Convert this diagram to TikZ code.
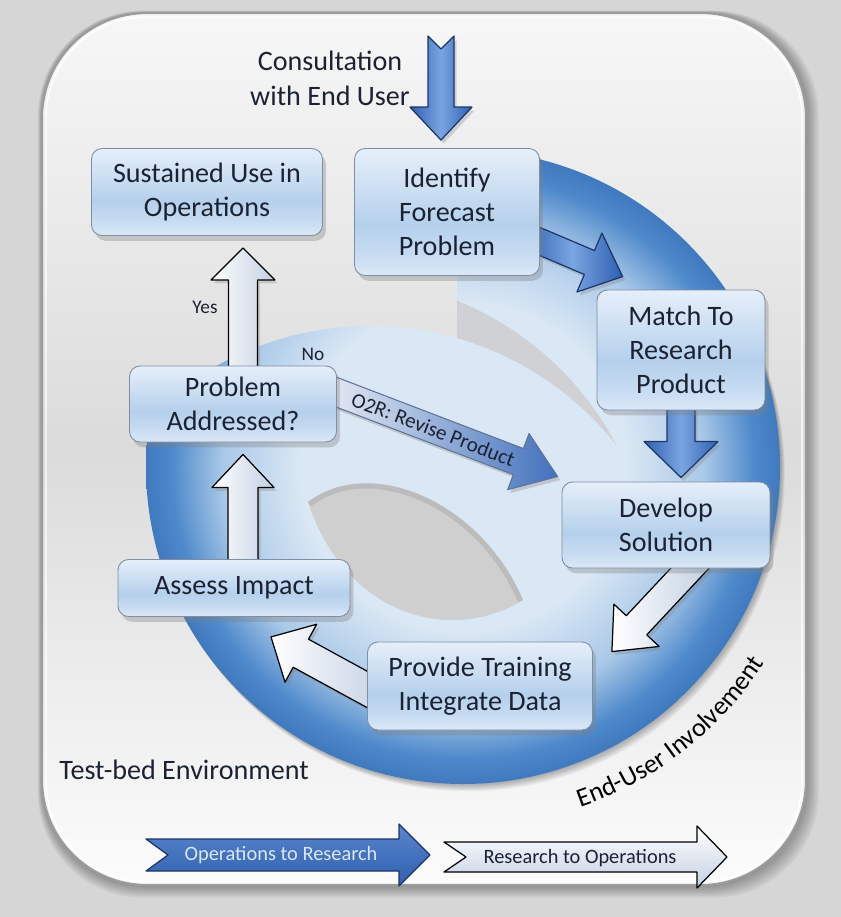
\documentclass[tikz,border=0pt]{standalone}
\usepackage{fontspec}
\setmainfont{Carlito}
\usepackage{xcolor}
\usetikzlibrary{calc,shadows,decorations.text}

\definecolor{BgGray}{HTML}{D6D6D6}
\definecolor{PanelTop}{HTML}{F7F7F7}
\definecolor{PanelMid}{HTML}{DBDBDB}
\definecolor{PanelBot}{HTML}{FCFCFC}
\definecolor{PanelEdge}{HTML}{9C9C9C}
\definecolor{RingLight}{HTML}{DAE7F4}
\definecolor{RingMid}{HTML}{A9C8E8}
\definecolor{RingDark}{HTML}{4E89CB}
\definecolor{RingRim}{HTML}{3F7ABF}
\definecolor{CrescentGray}{HTML}{CFD1D4}
\definecolor{LensGray}{HTML}{CFCFCF}
\definecolor{LensEdge}{HTML}{B0B0B0}
\definecolor{BoxTop}{HTML}{E6EFFA}
\definecolor{BoxMid}{HTML}{B5D0EC}
\definecolor{BoxMidB}{HTML}{C8DCF2}
\definecolor{BoxLow}{HTML}{DCE8F6}
\definecolor{BoxLine}{HTML}{7D8EA5}
\definecolor{TextDark}{HTML}{1B2232}
\definecolor{BlueA}{HTML}{2F5FB0}
\definecolor{BlueB}{HTML}{7AA5E2}
\definecolor{BlueLine}{HTML}{1C3668}
\definecolor{WhiteShade}{HTML}{C3D0E3}
\definecolor{O2RStart}{HTML}{EDF0F5}
\definecolor{LegendText}{HTML}{DCE7F6}

\pgfdeclareradialshading{ringshade}{\pgfpoint{0bp}{0bp}}{color(0bp)=(RingLight); color(13bp)=(RingLight); color(19bp)=(RingMid); color(23bp)=(RingDark); color(25bp)=(RingRim); color(50bp)=(RingRim)}
\pgfdeclareverticalshading{boxshade}{100bp}{color(0bp)=(BoxLow); color(25bp)=(BoxLow); color(33bp)=(BoxMidB); color(45bp)=(BoxMid); color(75bp)=(BoxTop); color(100bp)=(BoxTop)}

\pgfdeclarelayer{ringlayer}
\pgfdeclarelayer{arrowlayer}
\pgfsetlayers{ringlayer,arrowlayer,main}

\newcommand{\FatArrow}[7]{%
  \path #2 coordinate (fa-s) #3 coordinate (fa-e);
  \path ($(fa-e)!#6!(fa-s)$) coordinate (fa-h) ($(fa-s)!#7!(fa-e)$) coordinate (fa-n);
  \draw[#1] ($(fa-s)!#4!90:(fa-e)$) -- ($(fa-h)!#4!90:(fa-e)$) -- ($(fa-h)!#5!90:(fa-e)$) -- (fa-e)
     -- ($(fa-h)!#5!-90:(fa-e)$) -- ($(fa-h)!#4!-90:(fa-e)$) -- ($(fa-s)!#4!-90:(fa-e)$) -- (fa-n) -- cycle;
}

\begin{document}
\begin{tikzpicture}[x=0.02cm,y=0.02cm]
    \tikzstyle{StageStyle}=[shape=rectangle, rounded corners=6pt, draw=BoxLine, line width=0.5pt, shade, shading=boxshade,
                            text=TextDark, font=\fontsize{16}{19.5}\selectfont, align=center, inner sep=2pt,
                            drop shadow={opacity=.35, shadow xshift=2pt, shadow yshift=-3pt}]
    \tikzstyle{LabelStyle}=[text=TextDark, font=\fontsize{16}{20}\selectfont, inner sep=0pt]
    \tikzstyle{SmallStyle}=[text=TextDark, font=\fontsize{11}{13}\selectfont, inner sep=0pt]
    \tikzstyle{LegendStyle}=[font=\fontsize{11.6}{13}\selectfont, inner sep=0pt]
    \tikzstyle{BlueArrow}=[draw=BlueLine, line width=0.7pt, line join=round, left color=BlueA, right color=BlueA, middle color=BlueB,
                           drop shadow={opacity=.3, shadow xshift=1.5pt, shadow yshift=-2pt}]
    \tikzstyle{WhiteArrow}=[draw=black, line width=0.7pt, line join=round, left color=white, right color=WhiteShade,
                            drop shadow={opacity=.3, shadow xshift=1.5pt, shadow yshift=-2pt}]
    \tikzstyle{O2RArrow}=[draw=BlueLine!70, line width=0.6pt, line join=round, left color=O2RStart, right color=BlueA!75!BlueB,
                          drop shadow={opacity=.3, shadow xshift=1.5pt, shadow yshift=-2pt}]
    \tikzstyle{LegendBlue}=[draw=BlueLine, line width=0.7pt, line join=round, top color=BlueB!55!BlueA, bottom color=BlueA]
    \tikzstyle{LegendWhite}=[draw=black, line width=0.7pt, line join=round, top color=white, bottom color=WhiteShade]

    \useasboundingbox (0,0) rectangle (841,-917);
    \coordinate (C1) at (463,-467);
    \coordinate (C2) at (370,-640);
    \coordinate (C3) at (340,-590);

    \begin{pgfonlayer}{ringlayer}
    \fill[BgGray] (0,0) rectangle (841,-917);
    \foreach \d in {1,...,8}
       \fill[black, opacity=0.045, rounded corners=2.1cm] (42-0.5*\d,-13+0.3*\d) rectangle (806+1.6*\d,-885-1.6*\d);
    \shade[top color=PanelTop, bottom color=PanelBot, middle color=PanelMid, rounded corners=2.1cm] (42,-13) rectangle (806,-885);
    \draw[PanelEdge, line width=1.2pt, rounded corners=2.1cm] (42,-13) rectangle (806,-885);
    \draw[white, line width=0.8pt, rounded corners=2cm] (46,-17) rectangle (802,-881);

    \begin{scope}
      \clip (457,0) -- (900,0) -- (900,-1000) -- (0,-1000) -- (0,-470) -- (457,-470) -- cycle;
      \foreach \d in {2,4,...,12}
         \fill[black, opacity=0.05] ($(C1)+(0.4*\d,-0.6*\d)$) circle (317);
    \end{scope}
    \begin{scope}
      \clip (C1) circle (317);
      \begin{scope}
        \clip (457,0) rectangle (900,-1000);
        \shade[shading=ringshade] (C1) circle (317);
        \fill[CrescentGray] (C3) circle (312);
      \end{scope}
      \clip (C2) circle (314);
      \shade[shading=ringshade] (C1) circle (317);
    \end{scope}

    \fill[LensGray] (308,-502) .. controls (370,-455) and (480,-500) .. (523,-600)
                     .. controls (450,-645) and (345,-615) .. (308,-502) -- cycle;
    \begin{scope}
      \clip (308,-502) .. controls (370,-455) and (480,-500) .. (523,-600)
                       .. controls (450,-645) and (345,-615) .. (308,-502) -- cycle;
      \draw[LensEdge, line width=6pt, opacity=0.6] (308,-502) .. controls (370,-455) and (480,-500) .. (523,-600);
    \end{scope}

    \path[decorate, decoration={text along path, text align=center,
          text={|\fontsize{15}{18}\selectfont|End-User Involvement}}]
          ($(C1)+(-77:360)$) arc[start angle=-77, end angle=-27, radius=360];
    \end{pgfonlayer}

    \node[StageStyle, minimum width=4.62cm, minimum height=1.74cm] (S) at (207,-192) {Sustained Use in\\Operations};
    \node[StageStyle, minimum width=3.7cm, minimum height=2.54cm] (I) at (447,-212) {Identify\\Forecast\\Problem};
    \node[StageStyle, minimum width=3.36cm, minimum height=2.4cm] (M) at (681,-350) {Match To\\Research\\Product};
    \node[StageStyle, minimum width=4.16cm, minimum height=1.72cm] (D) at (666,-525) {Develop\\Solution};
    \node[StageStyle, minimum width=4.5cm, minimum height=1.76cm] (T) at (480,-686) {Provide Training\\Integrate Data};
    \node[StageStyle, minimum width=4.64cm, minimum height=1.14cm] (A) at (234,-588) {Assess Impact};
    \node[StageStyle, minimum width=4.14cm, minimum height=1.52cm] (Q) at (233,-404) {Problem\\Addressed?};

    \node[LabelStyle, align=center] (C) at (330,-78) {Consultation\\with End User};
    \node[LabelStyle, anchor=west] (E) at (59,-770) {Test-bed Environment};
    \node[SmallStyle] (Y) at (205,-307) {Yes};
    \node[SmallStyle] (N) at (313,-354) {No};
    \coordinate (U) at (441,-36);
    \coordinate (L1s) at (146,-855);
    \coordinate (L1e) at (430,-855);
    \coordinate (L2s) at (444,-857);
    \coordinate (L2e) at (727,-857);

    \begin{pgfonlayer}{arrowlayer}
    \FatArrow{BlueArrow}{(U)}{($(I.north)+(-6,8)$)}{0.26cm}{0.62cm}{0.66cm}{0.26cm}
    \FatArrow{BlueArrow}{($(I.east)+(-13,-24)$)}{($(M.north west)+(26,13)$)}{0.26cm}{0.64cm}{0.72cm}{0cm}
    \FatArrow{BlueArrow}{($(M.south)+(0,10)$)}{($(D.north)+(15,4)$)}{0.28cm}{0.74cm}{0.72cm}{0cm}
    \FatArrow{O2RArrow}{($(Q.east)+(-14,17)$)}{($(D.north west)+(-4,5)$)}{0.28cm}{0.6cm}{0.84cm}{0cm}
    \path ($(Q.east)+(-14,17)$) -- ($(D.north west)+(-4,5)$)
          node[pos=0.47, sloped, text=TextDark, font=\fontsize{12}{14}\selectfont] (R) {O2R: Revise Product};
    \FatArrow{WhiteArrow}{($(D.south)+(34,11)$)}{($(T.north east)+(19,-10)$)}{0.28cm}{0.62cm}{0.72cm}{0cm}
    \FatArrow{WhiteArrow}{($(T.west)+(14,-11)$)}{($(A.south)+(37,-20)$)}{0.32cm}{0.66cm}{0.68cm}{0cm}
    \FatArrow{WhiteArrow}{($(A.north)+(9,-10)$)}{($(Q.south)+(10,-12)$)}{0.3cm}{0.62cm}{0.66cm}{0cm}
    \FatArrow{WhiteArrow}{($(Q.north)+(10,-10)$)}{($(S.south)+(36,-12)$)}{0.29cm}{0.64cm}{0.64cm}{0cm}
    \FatArrow{LegendBlue}{(L1s)}{(L1e)}{0.32cm}{0.62cm}{0.62cm}{0.44cm}
    \FatArrow{LegendWhite}{(L2s)}{(L2e)}{0.3cm}{0.62cm}{0.6cm}{0.44cm}
    \end{pgfonlayer}

    \node[LegendStyle, text=LegendText] (O) at (281,-855) {Operations to Research};
    \node[LegendStyle, text=TextDark] (P) at (580,-858) {Research to Operations};
\end{tikzpicture}
\end{document}
